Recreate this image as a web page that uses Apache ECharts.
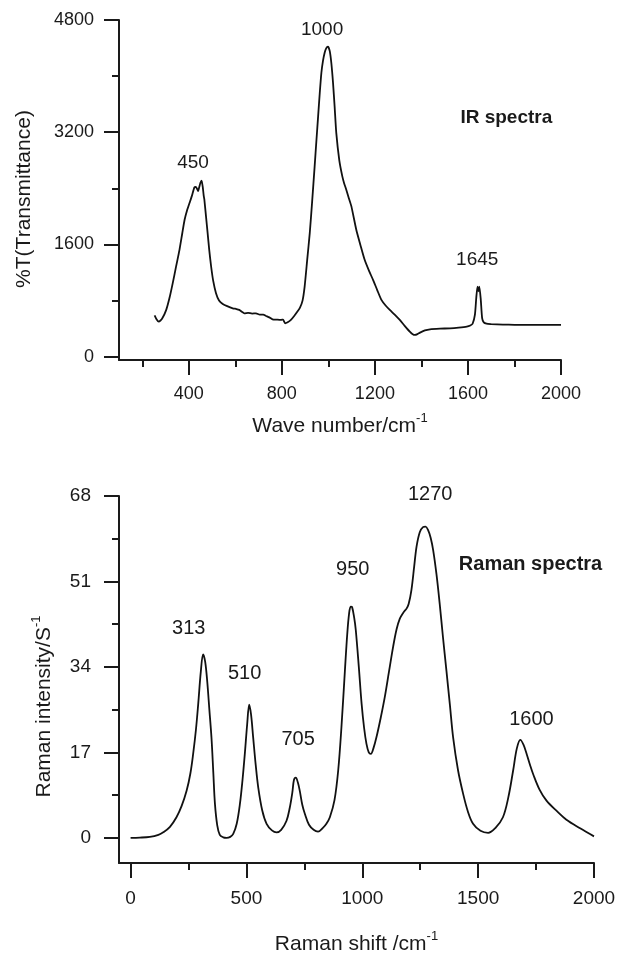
<!DOCTYPE html>
<html>
<head>
<meta charset="utf-8">
<script src="https://cdn.jsdelivr.net/npm/echarts@6/dist/echarts.min.js"></script>
<style>
  html, body { margin: 0; padding: 0; background: #fff; }
  #chart { width: 617px; height: 953px; }
</style>
</head>
<body>
<div id="chart"></div>
<script>
// ---- IR spectrum: wave number (cm-1) against %T ----
const irWave = [253, 262, 271, 285, 303, 318, 331, 345, 360, 372, 382, 393, 403, 414, 424, 430, 436, 440, 445, 450, 455, 460, 464, 467, 474, 481, 488, 496, 505, 517, 530, 546, 565, 589, 605, 617, 628, 639, 655, 672, 689, 705, 720, 732, 746, 760, 778, 796, 805, 814, 825, 839, 853, 867, 878, 889, 898, 909, 920, 930, 941, 949, 956, 963, 970, 977, 984, 991, 998, 1006, 1013, 1020, 1027, 1034, 1047, 1060, 1068, 1077, 1088, 1099, 1120, 1138, 1156, 1174, 1192, 1210, 1228, 1246, 1264, 1285, 1307, 1328, 1350, 1361, 1372, 1383, 1394, 1415, 1437, 1480, 1523, 1560, 1595, 1610, 1620, 1630, 1636, 1641, 1645, 1649, 1655, 1661, 1668, 1680, 1700, 1750, 1800, 1850, 1900, 1950, 2000];
const irTrans = [590, 530, 500, 540, 667, 850, 1048, 1280, 1524, 1760, 1952, 2090, 2190, 2300, 2414, 2420, 2390, 2360, 2420, 2480, 2510, 2420, 2300, 2238, 2000, 1762, 1520, 1286, 1080, 905, 800, 752, 720, 690, 680, 667, 640, 619, 625, 615, 619, 600, 600, 581, 560, 533, 528, 524, 530, 476, 490, 524, 580, 643, 700, 800, 1000, 1380, 1762, 2200, 2714, 3100, 3429, 3760, 4048, 4220, 4333, 4400, 4420, 4357, 4180, 3905, 3560, 3190, 2800, 2571, 2470, 2381, 2260, 2143, 1810, 1590, 1381, 1230, 1096, 950, 810, 730, 667, 600, 524, 440, 357, 325, 310, 322, 343, 375, 391, 400, 405, 415, 429, 445, 470, 600, 850, 1000, 930, 1000, 820, 550, 490, 470, 465, 458, 455, 453, 453, 455, 455];
const irXMajor = [400, 800, 1200, 1600, 2000];
const irXMinor = [200, 600, 1000, 1400, 1800];
const irYMajor = [0, 1600, 3200, 4800];
const irYMinor = [800, 2400, 4000];
const irPeakNames = ['450', '1000', '1645'];

// ---- Raman spectrum: shift (cm-1) against intensity ----
const ramanShift = [0, 40, 83, 120, 141, 170, 198, 220, 242, 258, 270, 282, 292, 303, 313, 322, 331, 340, 349, 357, 364, 374, 385, 400, 414, 430, 443, 458, 472, 483, 493, 503, 512, 520, 529, 540, 551, 568, 587, 610, 630, 650, 673, 687, 698, 705, 713, 722, 730, 741, 752, 770, 790, 809, 830, 845, 860, 880, 896, 910, 925, 935, 943, 950, 956, 965, 972, 985, 997, 1008, 1018, 1028, 1037, 1048, 1061, 1080, 1097, 1115, 1133, 1148, 1162, 1177, 1191, 1200, 1212, 1224, 1234, 1248, 1262, 1273, 1284, 1295, 1306, 1320, 1334, 1348, 1363, 1378, 1392, 1413, 1435, 1456, 1478, 1510, 1543, 1575, 1607, 1630, 1651, 1667, 1682, 1696, 1710, 1724, 1738, 1765, 1795, 1840, 1881, 1940, 2000];
const ramanInt = [0, 0.05, 0.2, 0.6, 1.1, 2.2, 4.1, 6.3, 9.4, 12.8, 16.7, 21.5, 26.7, 33, 36.5, 35, 31, 25.5, 20, 13, 6.8, 2.5, 0.6, 0.1, 0, 0.2, 0.8, 2.8, 6.8, 11.5, 16.7, 22.5, 26.5, 24.5, 20, 14.5, 10, 5.5, 2.8, 1.5, 1.1, 1.6, 3.4, 6, 9, 11.5, 12, 11, 9.4, 6.6, 4.8, 2.6, 1.6, 1.25, 2, 2.8, 4.1, 7.5, 13.4, 22, 33.3, 40.5, 44.6, 46, 45.9, 43.8, 41.3, 34, 26.7, 21.8, 18.7, 17, 16.7, 17.8, 20, 24, 28, 33, 38, 41.5, 43.6, 44.8, 45.6, 46.5, 49.3, 54, 57.9, 60.8, 61.8, 61.9, 61.2, 59.7, 57.2, 52.5, 46.6, 40, 33.3, 26.5, 20, 13.5, 8.8, 5.2, 2.8, 1.4, 1.0, 2.0, 4.1, 8, 13.4, 17.8, 19.5, 18.5, 16.6, 14.5, 12.6, 9.6, 7.4, 5.3, 3.6, 1.9, 0.3];
const ramanXMajor = [0, 500, 1000, 1500, 2000];
const ramanXMinor = [250, 750, 1250, 1750];
const ramanYMajor = [0, 17, 34, 51, 68];
const ramanYMinor = [8.5, 25.5, 42.5, 59.5];
const ramanPeakNames = ['313', '510', '705', '950', '1270', '1600'];

const INK = '#1a1a1a';
const FONT = '"Liberation Sans", Arial, Helvetica, sans-serif';

function pairs(xs, ys) { return xs.map((x, i) => [x, ys[i]]); }

// one visible axis (line, long ticks, labels) plus a companion axis for short ticks
function axisPair(side, grid, min, max, major, minor, labelSize, margin, name, nameGap, namePad) {
  const base = {
    type: 'value', gridIndex: grid, min: min, max: max, position: side,
    splitLine: { show: false }
  };
  const main = Object.assign({}, base, {
    axisLine: { show: true, onZero: false, lineStyle: { color: INK, width: 2 } },
    axisTick: { show: true, length: 15, lineStyle: { color: INK, width: 2 }, customValues: major },
    axisLabel: {
      show: true, customValues: major, color: INK, fontSize: labelSize, fontFamily: FONT,
      margin: margin, formatter: v => String(v)
    },
    name: name, nameLocation: 'middle', nameGap: nameGap,
    nameTextStyle: {
      color: INK, fontSize: 21, fontFamily: FONT, lineHeight: 28, padding: namePad,
      rich: { sup: { fontSize: 13, lineHeight: 13, verticalAlign: 'top', color: INK, fontFamily: FONT } }
    }
  });
  const companion = Object.assign({}, base, {
    axisLine: { show: false, onZero: false },
    axisTick: { show: true, length: 7, lineStyle: { color: INK, width: 2 }, customValues: minor },
    axisLabel: { show: false, customValues: minor }
  });
  return [main, companion];
}

const irX = axisPair('bottom', 0, 100, 2000, irXMajor, irXMinor, 18, 25, 'Wave number/cm{sup|-1}', 52, 0);
const irY = axisPair('left', 0, -47, 4800, irYMajor, irYMinor, 18, 25, '%T(Transmittance)', 81, [0, 18, 0, 0]);
const raX = axisPair('bottom', 1, -50, 2000, ramanXMajor, ramanXMinor, 19, 26, 'Raman shift /cm{sup|-1}', 67, 0);
const raY = axisPair('left', 1, -5, 68, ramanYMajor, ramanYMinor, 19, 28, 'Raman intensity/S{sup|-1}', 61, [0, 54, 0, 0]);

function textMarks(names, anchors, size, grid, weight) {
  return {
    type: 'scatter', xAxisIndex: grid * 2, yAxisIndex: grid * 2,
    symbolSize: 0, clip: false, silent: true,
    itemStyle: { opacity: 1 },
    data: names.map((t, i) => ({ value: anchors[i], name: t })),
    label: {
      show: true, position: 'inside', formatter: p => p.name, opacity: 1,
      color: INK, fontSize: size, fontWeight: weight, fontFamily: FONT
    }
  };
}

const chart = echarts.init(document.getElementById('chart'), null, { renderer: 'canvas' });
chart.setOption({
  backgroundColor: '#fff',
  animation: false,
  grid: [
    { left: 119, right: 56, top: 20, bottom: 593, outerBoundsMode: 'none', containLabel: false },
    { left: 119, right: 23, top: 496, bottom: 90, outerBoundsMode: 'none', containLabel: false }
  ],
  xAxis: [irX[0], irX[1], raX[0], raX[1]],
  yAxis: [irY[0], irY[1], raY[0], raY[1]],
  series: [
    {
      type: 'line', xAxisIndex: 0, yAxisIndex: 0,
      data: pairs(irWave, irTrans), showSymbol: false, smooth: 0.2,
      lineStyle: { color: '#111', width: 1.8 }
    },
    {
      type: 'line', xAxisIndex: 2, yAxisIndex: 2,
      data: pairs(ramanShift, ramanInt), showSymbol: false, smooth: 0.35,
      lineStyle: { color: '#111', width: 1.8 }
    },
    textMarks(irPeakNames, [[418, 2761], [973, 4657], [1640, 1378]], 19, 0, 'normal'),
    textMarks(['IR spectra'], [[1765, 3403]], 19, 0, 'bold'),
    textMarks(ramanPeakNames, [[251, 41.6], [492, 32.6], [723, 19.6], [959, 53.4], [1293, 68.4], [1730, 23.5]], 20, 1, 'normal'),
    textMarks(['Raman spectra'], [[1726, 54.4]], 20, 1, 'bold')
  ]
});
</script>
</body>
</html>
